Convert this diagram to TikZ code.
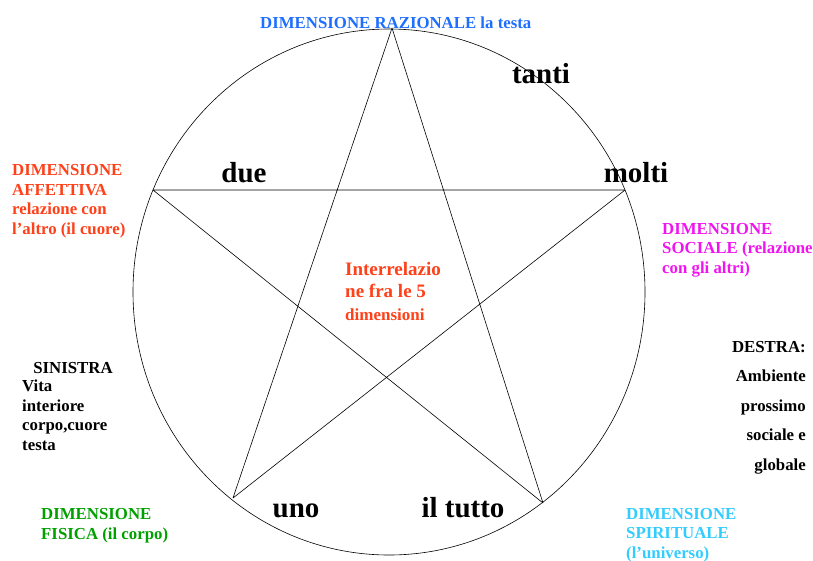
\documentclass[tikz,border=0pt]{standalone}
\usepackage{fontspec}
\setmainfont{Liberation Serif}
\usepackage{tikz}
\usetikzlibrary{calc}

\definecolor{razblue}{RGB}{30,110,255}
\definecolor{affred}{RGB}{255,64,25}
\definecolor{socmag}{RGB}{240,20,240}
\definecolor{fisgreen}{RGB}{0,160,0}
\definecolor{spircyan}{RGB}{51,204,255}

\tikzset{
  lab/.style={inner sep=0pt,anchor=base west,align=left,font=\fontsize{16.8}{19.5}\selectfont\bfseries},
  big/.style={inner sep=0pt,anchor=base,font=\fontsize{29}{30}\selectfont\bfseries},
  star/.style={line width=0.6pt}
}

\begin{document}
\begin{tikzpicture}[x=1pt,y=-1pt]
          \useasboundingbox (0,0) rectangle (813,560);
          % circle and star
          \draw[star] (389,292) ellipse [x radius=256pt, y radius=263pt];
          \coordinate (top) at (392,28);
          \coordinate (left) at (153,190);
          \coordinate (right) at (625,190);
          \coordinate (bleft) at (233,498);
          \coordinate (bright) at (543,503);
          \draw[star] (top) -- (bleft) (top) -- (bright) (left) -- (right) (left) -- (bright) (right) -- (bleft);

          % words on the star
          \node[big] (tanti) at (541,83) {tanti};
          \node[big] (due) at (244,182) {due};
          \node[big] (molti) at (636,182) {molti};
          \node[big] (uno) at (296,517) {uno};
          \node[big] (tutto) at (463,517) {il tutto};

          % dimensions (placed at the baseline of the last line)
          \node[lab,text=razblue] (raz) at (260,28) {DIMENSIONE RAZIONALE la testa};
          \node[lab,text=affred] (aff) at (12,234) {DIMENSIONE\\AFFETTIVA\\relazione con\\l’altro (il cuore)};
          \node[lab,text=socmag] (soc) at (662,273) {DIMENSIONE\\SOCIALE (relazione\\con gli altri)};
          \node[lab,text=fisgreen] (fis) at (41,539) {DIMENSIONE\\FISICA (il corpo)};
          \node[lab,text=spircyan] (spir) at (626,558) {DIMENSIONE\\SPIRITUALE\\(l’universo)};
          \node[lab,text=affred,font=\fontsize{19}{22.5}\selectfont\bfseries] (inter) at (345,320) {Interrelazio\\ne fra le 5\\{\fontsize{17}{20}\selectfont dimensioni}};

          % left and right
          \node[lab,anchor=base] (sin) at (73,373) {SINISTRA};
          \node[lab] (vita) at (22,450) {Vita\\interiore\\corpo,cuore\\testa};
          \node[lab,anchor=base east,align=right,font=\fontsize{16.8}{29.5}\selectfont\bfseries] (destra) at (806,470) {DESTRA:\\Ambiente\\prossimo\\sociale e\\globale};
\end{tikzpicture}
\end{document}
